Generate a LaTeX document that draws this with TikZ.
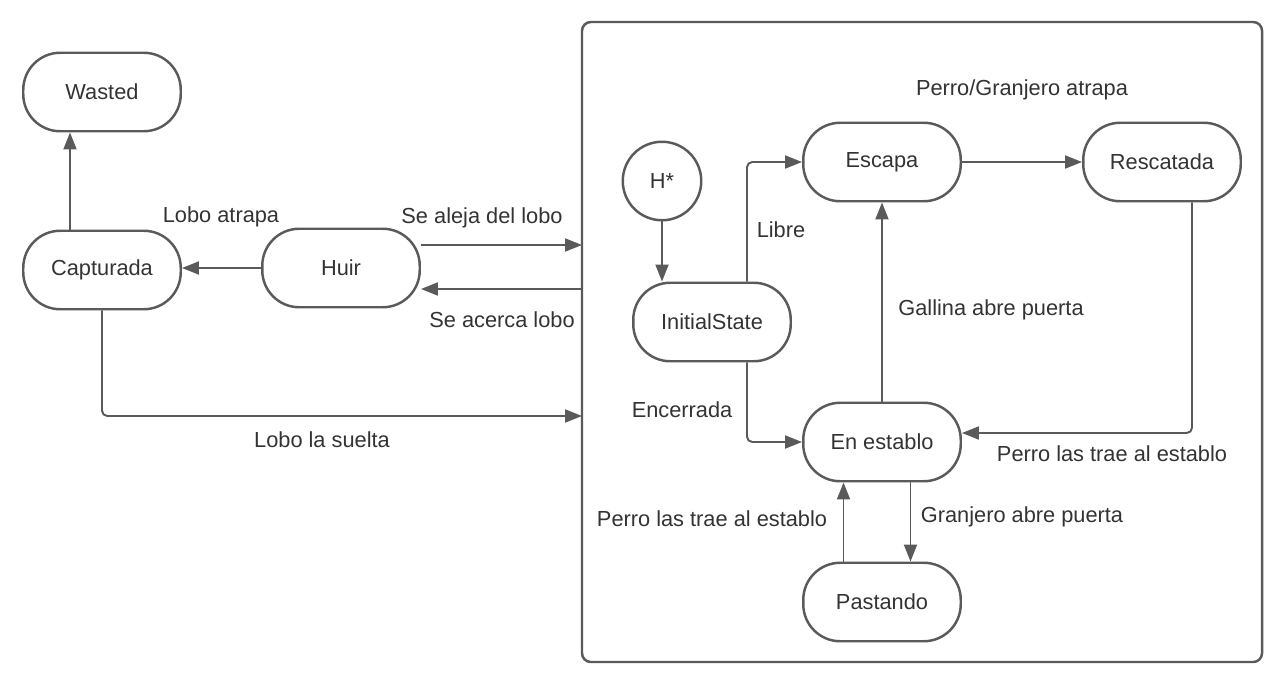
\documentclass[tikz,border=0pt]{standalone}
\usepackage{fontspec}
\setmainfont{Liberation Sans}
\usetikzlibrary{arrows.meta}
\definecolor{lineC}{RGB}{90,90,90}
\definecolor{textC}{RGB}{51,51,51}

\begin{document}
\begin{tikzpicture}[x=0.02cm,y=-0.02cm,
    state/.style={draw=lineC,line width=1.4pt,rounded corners=0.74cm,minimum width=3.15cm,minimum height=1.57cm,text=textC,font=\fontsize{12.4}{14}\selectfont},
    hist/.style={circle,draw=lineC,line width=1.4pt,minimum size=1.57cm,text=textC,font=\fontsize{12.4}{14}\selectfont},
    trans/.style={draw=lineC,line width=1.1pt,rounded corners=3pt,-{Triangle[length=0.34cm,width=0.26cm]}},
    lbl/.style={text=textC,font=\fontsize{12.4}{14}\selectfont}]
    \useasboundingbox (0,0) rectangle (1283,683);

    % outside the box
    \node[state] (wasted) at (102,92) {Wasted};
    \node[state] (capt) at (102,270) {Capturada};
    \node[state] (huir) at (341,268) {Huir};
    \draw[trans] (huir.west) -- (capt.east |- huir.west);
    \draw[trans] ([xshift=-0.64cm]capt.north) -- ([xshift=-0.64cm]wasted.south);
    \node[lbl] at (221,217) {Lobo atrapa};

    % box
    \draw[draw=lineC,line width=1.4pt,rounded corners=5pt] (582,22) rectangle (1262,662);
    \coordinate (inA) at (582,245);
    \coordinate (outA) at (582,289);
    \coordinate (inB) at (582,416);
    \draw[trans] (huir.east |- inA) -- (inA);
    \draw[trans] (outA) -- (huir.east |- outA);
    \draw[trans] (capt.south) |- (inB);
    \node[lbl] at (482,218) {Se aleja del lobo};
    \node[lbl] at (502,320) {Se acerca lobo};
    \node[lbl] at (322,440) {Lobo la suelta};

    % inside the box
    \node[hist] (hs) at (662,181) {H*};
    \node[state] (init) at (712,322) {InitialState};
    \node[state] (esc) at (882,162) {Escapa};
    \node[state] (resc) at (1162,162) {Rescatada};
    \node[state] (est) at (882,442) {En establo};
    \node[state] (past) at (882,602) {Pastando};
    \draw[trans] (hs.south) -- (hs.south |- init.north);
    \draw[trans] ([xshift=0.7cm]init.north) |- (esc.west);
    \draw[trans] ([xshift=0.7cm]init.south) |- (est.west);
    \draw[trans] (esc) -- (resc);
    \draw[trans] (est) -- (esc);
    \draw[trans] ([xshift=0.6cm]resc.south) |- ([yshift=0.18cm]est.east);
    \draw[trans] ([xshift=0.57cm]est.south) -- ([xshift=0.57cm]past.north);
    \draw[trans] ([xshift=-0.77cm]past.north) -- ([xshift=-0.77cm]est.south);
    \node[lbl] at (781,230) {Libre};
    \node[lbl] at (682,410) {Encerrada};
    \node[lbl] at (1022,90) {Perro/Granjero atrapa};
    \node[lbl] at (991,310) {Gallina abre puerta};
    \node[lbl] at (1112,454) {Perro las trae al establo};
    \node[lbl] at (1022,517) {Granjero abre puerta};
    \node[lbl] at (712,519) {Perro las trae al establo};
\end{tikzpicture}
\end{document}
